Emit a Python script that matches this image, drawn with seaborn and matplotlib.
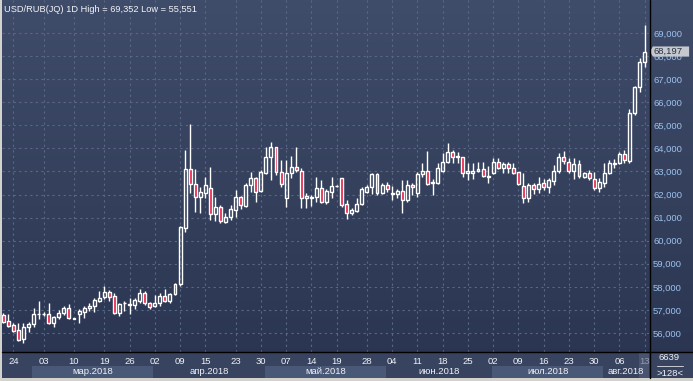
import numpy as np
import matplotlib
matplotlib.use("Agg")
import matplotlib.pyplot as plt
import matplotlib.transforms as mtrans
from matplotlib.patches import Rectangle, Polygon
from matplotlib.lines import Line2D
from matplotlib.colors import LinearSegmentedColormap
import seaborn as sns

# ---------------- data (USD/RUB daily candles) ----------------
opens = [56.78, 56.54, 56.35, 56.13, 55.73, 56.25, 56.39, 56.81, 56.82, 56.82,
         56.42, 56.68, 56.86, 57.07, 56.62, 56.81, 56.93, 57.07, 57.17, 57.40,
         57.55, 57.76, 57.60, 56.86, 57.28, 57.23, 57.21, 57.40, 57.72, 57.29,
         57.17, 57.29, 57.60, 57.40, 57.69, 58.12, 60.54, 63.09, 62.46, 61.91,
         62.05, 62.27, 61.16, 61.48, 60.83, 61.01, 61.33, 61.88, 61.50, 62.41,
         62.70, 62.17, 62.95, 63.61, 64.05, 62.99, 61.84, 62.92, 63.18, 63.04,
         61.84, 61.87, 61.88, 62.27, 61.69, 62.13, 62.36, 62.70, 61.59, 61.19,
         61.30, 61.59, 62.13, 62.31, 62.89, 62.08, 62.41, 62.04, 62.02, 62.15,
         61.76, 62.41, 62.08, 62.88, 63.03, 62.52, 62.51, 63.03, 63.42, 63.86,
         63.63, 63.61, 62.92, 62.92, 63.03, 63.09, 62.77, 62.92, 63.42, 63.14,
         63.31, 63.14, 62.96, 62.37, 61.84, 62.41, 62.23, 62.51, 62.34, 62.60,
         63.03, 63.61, 63.42, 63.03, 63.32, 62.78, 62.92, 62.66, 62.27, 62.52,
         62.92, 63.34, 63.35, 63.76, 63.47, 65.55, 66.65, 67.76]
highs = [56.88, 56.83, 56.42, 56.42, 56.45, 56.49, 57.07, 57.39, 56.93, 57.32,
         56.74, 57.00, 57.17, 57.26, 56.66, 57.03, 57.17, 57.32, 57.50, 57.84,
         58.04, 57.86, 57.72, 57.32, 57.40, 57.50, 57.50, 57.89, 57.82, 57.36,
         57.65, 57.72, 57.89, 57.75, 58.18, 60.65, 63.93, 65.06, 63.09, 62.34,
         62.78, 63.18, 61.91, 61.55, 61.19, 61.55, 62.20, 61.94, 62.49, 62.99,
         62.78, 63.06, 64.05, 64.29, 64.08, 63.50, 63.50, 63.67, 64.05, 63.14,
         62.05, 61.98, 62.78, 62.63, 62.23, 62.78, 62.40, 62.70, 61.76, 61.40,
         61.84, 62.31, 62.41, 62.95, 62.95, 62.49, 62.56, 62.37, 62.23, 62.63,
         62.63, 62.49, 62.99, 63.35, 63.90, 62.66, 63.35, 63.79, 64.22, 63.93,
         63.86, 63.64, 63.35, 63.38, 63.42, 63.42, 63.24, 63.57, 63.57, 63.40,
         63.42, 63.35, 62.99, 62.92, 62.49, 62.51, 62.75, 62.66, 62.70, 63.28,
         63.79, 63.90, 63.57, 63.57, 63.50, 62.99, 63.06, 62.99, 62.70, 63.38,
         63.50, 63.53, 63.86, 63.93, 65.69, 66.70, 67.90, 69.352]
lows = [56.45, 56.28, 56.06, 55.65, 55.551, 56.06, 56.28, 56.59, 56.75, 56.38,
        56.28, 56.59, 56.78, 56.59, 56.61, 56.45, 56.64, 56.97, 56.93, 57.36,
        57.46, 57.40, 56.82, 56.74, 56.97, 56.81, 57.03, 57.29, 57.20, 57.03,
        57.11, 57.17, 57.36, 57.32, 57.65, 58.05, 60.39, 62.05, 61.26, 61.19,
        61.84, 60.90, 60.87, 60.78, 60.75, 60.90, 61.01, 61.36, 61.45, 62.13,
        61.69, 62.13, 62.89, 62.63, 62.85, 62.31, 61.48, 62.70, 62.99, 61.40,
        61.40, 61.50, 61.69, 61.62, 61.59, 61.84, 62.33, 61.48, 60.93, 61.12,
        61.26, 61.55, 62.05, 62.02, 61.98, 62.02, 62.13, 61.76, 61.84, 61.22,
        61.69, 61.98, 61.91, 62.78, 62.41, 61.98, 62.46, 62.99, 63.38, 63.38,
        63.38, 62.78, 62.63, 62.66, 62.99, 62.75, 62.51, 62.89, 63.09, 62.95,
        62.95, 62.89, 62.41, 61.62, 61.69, 62.02, 62.05, 62.20, 62.08, 62.41,
        62.95, 63.33, 62.95, 62.66, 62.70, 62.70, 62.63, 62.20, 62.13, 62.34,
        62.89, 63.14, 63.32, 63.38, 63.38, 65.45, 66.46, 67.54]
closes = [56.49, 56.32, 56.10, 55.70, 56.25, 56.39, 56.82, 56.83, 56.83, 56.42,
          56.68, 56.86, 57.07, 56.64, 56.65, 56.95, 57.07, 57.18, 57.43, 57.50,
          57.76, 57.58, 56.88, 57.26, 57.30, 57.25, 57.43, 57.75, 57.29, 57.14,
          57.29, 57.60, 57.40, 57.69, 58.12, 60.60, 63.09, 62.46, 61.88, 62.13,
          62.41, 61.16, 61.48, 60.87, 61.01, 61.36, 61.88, 61.55, 62.41, 62.70,
          62.13, 62.99, 63.61, 64.05, 62.99, 62.46, 62.92, 63.18, 63.06, 61.84,
          61.94, 61.89, 62.27, 61.69, 62.15, 62.37, 62.38, 61.55, 61.19, 61.33,
          61.59, 62.23, 62.31, 62.89, 62.08, 62.41, 62.23, 62.06, 62.15, 61.76,
          62.41, 62.31, 62.89, 63.03, 62.46, 62.54, 63.14, 63.42, 63.86, 63.61,
          63.65, 62.95, 63.03, 63.03, 63.09, 62.80, 62.79, 63.40, 63.14, 63.31,
          63.14, 62.95, 62.46, 61.84, 62.41, 62.23, 62.46, 62.31, 62.63, 63.03,
          63.61, 63.47, 63.03, 63.32, 62.80, 62.92, 62.70, 62.27, 62.56, 62.92,
          63.38, 63.36, 63.76, 63.50, 65.55, 66.65, 67.73, 68.197]

day_labels = ["24", "03", "10", "19", "26", "02", "09", "15", "23", "30", "07",
              "14", "19", "28", "04", "11", "18", "25", "02", "09", "16", "23",
              "30", "06", "13"]
day_bars = [2, 8, 14, 20, 25, 30, 35, 40, 46, 51, 56, 61, 66, 72, 77, 82, 87,
            92, 97, 102, 107, 112, 117, 122, 127]
month_labels = ["мар.2018", "апр.2018", "май.2018", "июн.2018", "июл.2018", "авг.2018"]
month_starts = [5.7, 29.6, 51.8, 75.8, 96.8, 118.8, 127.86]
y_ticks = list(range(56, 70))
title_text = "USD/RUB(JQ) 1D High = 69,352 Low = 55,551"
last_price = 68.197
footer_top = "6639"
footer_bottom = ">128<"

# ---------------- style ----------------
sns.set_theme(style="dark")
plt.rcParams['font.family'] = ['Liberation Sans', 'DejaVu Sans']

W, H = 693, 381
fig = plt.figure(figsize=(W / 100, H / 100), dpi=100)

def fx(px):
    return px / W

def fy(py):
    return 1 - py / H

# background gradient
bg = fig.add_axes([0, 0, 1, 1], zorder=0)
bg.axis('off')
cmap = LinearSegmentedColormap.from_list('bg', ['#3f4c6a', '#34405c', '#2a3450'])
grad = np.linspace(0, 1, 256).reshape(-1, 1)
bg.imshow(grad, aspect='auto', cmap=cmap, extent=[0, 1, 0, 1], origin='upper')
bg.set_xlim(0, 1)
bg.set_ylim(0, 1)

ax_left, ax_right, ax_top, ax_bot = 2, 649, 0, 352
ax = fig.add_axes([fx(ax_left), fy(ax_bot), fx(ax_right - ax_left), (ax_bot - ax_top) / H], zorder=2)
ax.patch.set_alpha(0)

x = np.arange(len(opens))
o = np.array(opens); h = np.array(highs); l = np.array(lows); c = np.array(closes)
up = c >= o
body_lo = np.minimum(o, c)
body_hi = np.maximum(o, c)
body_h = np.maximum(body_hi - body_lo, 0.02)

# wicks (outside body)
ax.vlines(x, body_hi, h, color='white', linewidth=1.0, zorder=3)
ax.vlines(x, l, body_lo, color='white', linewidth=1.0, zorder=3)
# bodies
ax.bar(x[up], body_h[up], bottom=body_lo[up], width=0.58, color='none',
       edgecolor='white', linewidth=1.0, zorder=4)
ax.bar(x[~up], body_h[~up], bottom=body_lo[~up], width=0.58, color='#e8163f',
       edgecolor='white', linewidth=1.0, zorder=4)

ymin = 69 - (ax_bot - 33) / 23.08
ymax = 69 + 33 / 23.08
ax.set_ylim(ymin, ymax)
ax.set_xlim((ax_left - 3.3) / 5.05, (ax_right - 3.3) / 5.05)

ax.set_yticks(y_ticks)
ax.set_yticklabels([f"{v},000" for v in y_ticks])
ax.yaxis.tick_right()
ax.tick_params(axis='y', length=0, pad=3, labelsize=6.8, labelcolor='#9cc2ee')
ax.set_xticks(day_bars)
ax.set_xticklabels(day_labels)
ax.tick_params(axis='x', length=0, pad=3.5, labelsize=6.8, labelcolor='#eef1f6')
ax.grid(True, color='#5a6785', linestyle=(0, (2, 3)), linewidth=0.8)
ax.set_axisbelow(True)
for s in ax.spines.values():
    s.set_visible(False)

ax.text(0.003, 0.985, title_text, transform=ax.transAxes, ha='left', va='top',
        fontsize=6.7, color='#f2f4f8', zorder=6)

# bottom bar
bt = mtrans.blended_transform_factory(ax.transData, fig.transFigure)
fig.patches.append(Rectangle((0, fy(378)), 1, fy(352) - fy(378), transform=fig.transFigure,
                             facecolor='#37435f', edgecolor='none', zorder=1))
for k, name in enumerate(month_labels):
    x0, x1 = month_starts[k], month_starts[k + 1]
    if k % 2 == 0:
        ax.add_patch(Rectangle((x0, fy(378)), x1 - x0, fy(366) - fy(378), transform=bt,
                               facecolor='#4a5877', edgecolor='none', clip_on=False, zorder=1))
    ax.text((x0 + x1) / 2, fy(372), name, transform=bt, ha='center', va='center',
            fontsize=6.8, color='#eef1f6', clip_on=False)
# highlight of last date
ax.add_patch(Rectangle((125.8, fy(378)), 127.86 - 125.8, fy(352) - fy(378), transform=bt,
                       facecolor='#56627c', edgecolor='none', clip_on=False, zorder=1, alpha=0.6))
fig.patches.append(Rectangle((0, 0), 1, fy(378), transform=fig.transFigure,
                             facecolor='#d4d2cc', edgecolor='none', zorder=5))
fig.patches.append(Rectangle((0, 0), fx(1.5), 1, transform=fig.transFigure,
                             facecolor='#d4d2cc', edgecolor='none', zorder=5))

# black separator lines
fig.lines.append(Line2D([fx(ax_left), 1], [fy(352), fy(352)], transform=fig.transFigure,
                        color='black', linewidth=1.0, zorder=6))
fig.lines.append(Line2D([fx(649.5), fx(649.5)], [fy(378), 1], transform=fig.transFigure,
                        color='black', linewidth=1.0, zorder=6))

# footer counters
fig.text(fx(669), fy(358), footer_top, ha='center', va='center', fontsize=6.8, color='#eef1f6', zorder=7)
fig.lines.append(Line2D([fx(657), fx(683)], [fy(366), fy(366)], transform=fig.transFigure,
                        color='#c8ccd6', linewidth=0.7, zorder=7))
fig.text(fx(670), fy(373), footer_bottom, ha='center', va='center', fontsize=6.8, color='#eef1f6', zorder=7)

# last price marker
pt = mtrans.blended_transform_factory(ax.transAxes, ax.transData)
x_tip = 1.0015
x_b0 = 1.006
x_b1 = 1.062
hh = 0.22
ax.add_patch(Polygon([[x_tip, last_price], [x_b0, last_price + hh], [x_b1, last_price + hh],
                      [x_b1, last_price - hh], [x_b0, last_price - hh]], closed=True,
                     transform=pt, facecolor='#c5c8ce', edgecolor='none', clip_on=False, zorder=8))
ax.text(x_b0 + 0.001, last_price, f"{last_price:.3f}".replace('.', ','), transform=pt,
        ha='left', va='center', fontsize=6.8, color='#2a3142', clip_on=False, zorder=9)

fig.savefig('out.png', dpi=100)
